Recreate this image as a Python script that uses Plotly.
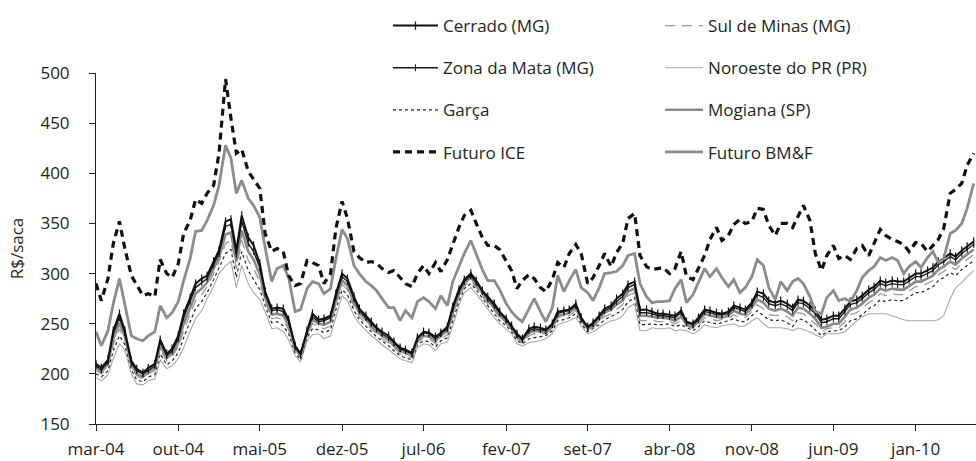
import pandas as pd
import plotly.graph_objects as go

# semi-monthly sampling grid (1st and 15th of each month)
dates = pd.date_range("2004-03-01", "2010-06-01", freq="SMS")

tick_dates = ["2004-03-01", "2004-10-01", "2005-05-01", "2005-12-01", "2006-07-01",
              "2007-02-01", "2007-09-01", "2008-04-01", "2008-11-01", "2009-06-01",
              "2010-01-01"]
tick_labels = ["mar-04", "out-04", "mai-05", "dez-05", "jul-06", "fev-07", "set-07",
               "abr-08", "nov-08", "jun-09", "jan-10"]

futuro_ice = [290,273,295,330,352,325,298,288,278,280,
              277,314,300,296,310,340,353,374,370,380,
              388,420,494,455,420,424,402,394,385,340,
              322,325,322,298,288,290,313,311,308,290,
              300,345,372,355,322,316,311,312,310,305,
              301,303,296,290,287,300,308,300,311,302,
              314,330,346,358,363,350,336,328,328,324,
              312,303,285,293,299,295,286,282,294,311,
              306,320,329,320,290,296,308,320,307,321,
              330,355,360,318,307,304,305,306,300,305,
              322,297,294,305,318,334,346,333,338,349,
              354,350,352,365,364,348,338,350,350,346,
              357,368,353,320,303,318,328,315,318,314,
              325,328,318,330,344,338,334,332,329,322,
              331,330,322,328,334,345,380,384,390,408,
              420]

futuro_bmf = [242,228,243,270,295,268,238,235,233,238,
              242,268,256,261,272,293,315,342,343,353,
              368,388,428,415,380,393,375,368,356,326,
              292,305,308,296,262,264,285,292,290,280,
              285,315,344,335,308,300,292,288,283,275,
              266,266,253,263,256,272,276,272,265,278,
              268,292,308,320,333,320,304,293,293,284,
              270,262,256,252,265,275,262,252,266,298,
              282,293,304,286,281,273,286,300,301,302,
              308,318,320,290,277,271,272,272,273,285,
              294,271,279,291,305,297,305,296,287,294,
              281,286,297,314,308,286,274,292,283,292,
              295,290,277,262,260,276,283,273,275,272,
              283,296,303,307,316,313,316,313,300,307,
              312,306,316,322,311,315,340,343,350,365,
              390]

cerrado = [210,206,214,243,260,243,213,205,201,206,
           210,234,220,225,238,260,276,290,295,298,
           312,323,352,354,323,358,336,328,310,282,
           265,266,265,254,228,220,243,260,254,255,
           258,280,300,295,277,265,258,252,246,242,
           238,232,226,224,221,236,242,241,237,241,
           247,267,284,294,300,293,283,277,270,262,
           255,248,240,235,245,247,246,244,250,262,
           263,264,270,256,247,251,258,265,268,275,
           280,289,292,264,264,262,260,260,259,258,
           263,252,250,256,264,263,261,260,262,268,
           266,264,271,282,280,273,271,273,270,266,
           274,273,268,263,254,255,258,258,265,272,
           274,278,284,287,293,291,293,292,292,296,
           300,300,303,306,312,315,320,317,323,327,
           332]

zona_da_mata = [208,204,212,240,256,241,211,203,200,204,
                208,232,218,223,235,256,272,286,291,295,
                309,320,347,349,319,352,330,322,306,280,
                263,264,262,252,227,219,242,257,252,253,
                256,277,297,292,275,263,256,250,245,240,
                236,231,225,223,220,235,241,240,235,240,
                245,265,282,292,298,291,282,275,268,261,
                254,247,239,234,243,245,244,243,249,260,
                262,263,268,255,246,250,257,263,266,272,
                277,286,289,261,261,260,258,258,257,256,
                261,251,249,254,262,261,259,259,260,266,
                264,262,269,279,276,270,268,270,267,263,
                271,270,265,260,251,252,255,255,262,269,
                271,275,281,284,290,288,290,289,289,293,
                297,297,300,303,309,312,317,314,320,324,
                329]

mogiana = [206,202,210,235,251,237,209,200,197,202,
           206,228,216,220,231,250,266,280,285,291,
           305,316,339,341,312,343,322,314,299,276,
           259,260,258,248,225,218,240,254,250,249,
           252,273,293,288,271,261,254,248,242,238,
           234,228,223,221,218,233,238,237,233,238,
           243,261,279,290,296,289,280,273,266,258,
           252,246,237,233,241,243,242,241,247,258,
           259,261,266,254,245,248,254,261,264,269,
           273,282,285,258,258,257,256,256,255,253,
           257,249,247,252,260,258,257,256,258,263,
           260,259,266,274,271,265,263,265,262,258,
           266,265,260,255,246,247,250,250,257,264,
           266,270,276,279,285,283,285,284,284,288,
           292,292,295,298,304,307,312,309,315,319,
           324]

sul_de_minas = [203,200,207,229,245,234,207,198,195,200,
                203,224,213,217,227,243,260,273,279,287,
                300,312,330,333,305,333,313,305,292,272,
                255,256,254,244,223,216,238,250,247,245,
                248,269,289,284,267,257,250,245,240,235,
                231,226,220,218,216,231,236,235,230,235,
                239,257,276,287,293,286,277,270,263,256,
                250,244,235,231,238,240,240,240,245,256,
                257,258,263,252,244,246,252,257,260,264,
                269,278,281,253,253,254,252,252,252,250,
                253,248,245,249,256,255,253,254,255,259,
                256,256,262,269,265,259,258,259,257,253,
                261,260,255,250,242,245,246,246,252,259,
                261,265,271,274,280,278,280,279,279,283,
                287,287,290,293,299,302,307,304,310,314,
                319]

garca = [200,197,203,223,238,229,204,194,192,197,
         199,220,209,213,221,236,252,265,272,281,
         294,306,320,324,296,322,303,294,284,268,
         251,252,248,240,221,214,236,245,244,241,
         244,264,284,279,263,254,247,242,237,233,
         228,223,218,216,214,229,233,232,227,233,
         236,253,272,285,290,284,275,268,260,253,
         248,242,233,230,235,236,237,238,243,253,
         254,256,260,250,242,245,249,254,257,260,
         264,272,276,249,249,250,249,249,250,247,
         249,246,243,247,253,251,250,251,253,255,
         252,252,258,263,258,254,253,254,251,247,
         255,254,249,244,238,242,243,243,247,253,
         255,259,265,268,274,272,274,273,273,277,
         281,281,284,287,293,296,301,298,304,308,
         313]

noroeste_pr = [196,193,199,215,230,224,200,190,189,193,
               195,214,205,208,215,226,243,255,263,275,
               287,300,308,312,286,308,290,281,274,262,
               245,246,242,234,218,212,233,239,240,235,
               238,258,278,273,258,250,243,238,234,229,
               224,220,215,213,211,226,230,229,223,230,
               232,248,268,281,286,280,272,264,256,250,
               245,240,230,228,231,232,233,235,240,249,
               251,253,256,248,240,242,246,250,253,254,
               258,266,270,243,243,246,245,245,246,243,
               244,243,240,243,249,247,246,248,249,250,
               247,248,253,256,250,246,246,246,245,243,
               246,244,242,239,236,240,240,240,242,247,
               253,257,260,260,260,260,258,256,254,253,
               253,253,253,253,254,258,275,286,291,297,
               303]

fig = go.Figure()

def add(name, y, legend, rank, color, width, dash="solid", marker=None):
    kw = dict(x=dates, y=y, name=name, legend=legend, legendgroup=name,
              legendrank=rank, line=dict(color=color, width=width, dash=dash),
              mode="lines", hoverinfo="skip")
    if marker:
        kw["mode"] = "lines+markers"
        kw["marker"] = marker
    fig.add_trace(go.Scatter(**kw))

add("Noroeste do PR (PR)", noroeste_pr, "legend2", 2, "#a8a8a8", 1.1)
add("Garça", garca, "legend", 3, "#222222", 1.2, dash="dot")
add("Sul de Minas (MG)", sul_de_minas, "legend2", 1, "#9a9a9a", 1.3, dash="10px,7px")
add("Mogiana (SP)", mogiana, "legend2", 3, "#8a8a8a", 2.6)
add("Zona da Mata (MG)", zona_da_mata, "legend", 2, "#1a1a1a", 1.4,
    marker=dict(symbol="line-ns", size=5, line=dict(width=1, color="#1a1a1a")))
add("Cerrado (MG)", cerrado, "legend", 1, "#111111", 2.0,
    marker=dict(symbol="line-ns", size=6, line=dict(width=1.2, color="#111111")))
add("Futuro BM&F", futuro_bmf, "legend2", 4, "#8c8c8c", 2.8)
add("Futuro ICE", futuro_ice, "legend", 4, "#111111", 3.2, dash="7px,5px")

fig.update_layout(
    width=976, height=461,
    margin=dict(l=96, r=0, t=73, b=37),
    paper_bgcolor="white", plot_bgcolor="white",
    font=dict(family="Open Sans", size=17, color="#231f20"),
    legend=dict(x=0.3318, y=1.185, xanchor="left", yanchor="top",
                itemwidth=45, tracegroupgap=17, traceorder="grouped",
                bgcolor="rgba(0,0,0,0)", font=dict(size=17)),
    legend2=dict(x=0.641, y=1.185, xanchor="left", yanchor="top",
                 itemwidth=38, tracegroupgap=17, traceorder="grouped",
                 bgcolor="rgba(0,0,0,0)", font=dict(size=17)),
    xaxis=dict(type="date", range=["2004-03-01", "2010-06-07"],
               tickvals=tick_dates, ticktext=tick_labels,
               showgrid=False, zeroline=False, showline=True,
               linecolor="#231f20", linewidth=1, ticks="outside",
               ticklen=6, tickcolor="#231f20", ticklabelstandoff=4),
    yaxis=dict(range=[150, 500], tickvals=[150, 200, 250, 300, 350, 400, 450, 500],
               showgrid=False, zeroline=False, showline=True,
               linecolor="#231f20", linewidth=1, ticks="outside",
               ticklen=6, tickcolor="#231f20", ticklabelstandoff=16,
               title=dict(text="R$/saca", standoff=12, font=dict(size=17))),
)

fig.write_html("out.html", config={"displayModeBar": False},
               post_script="document.body.style.margin='0';")
